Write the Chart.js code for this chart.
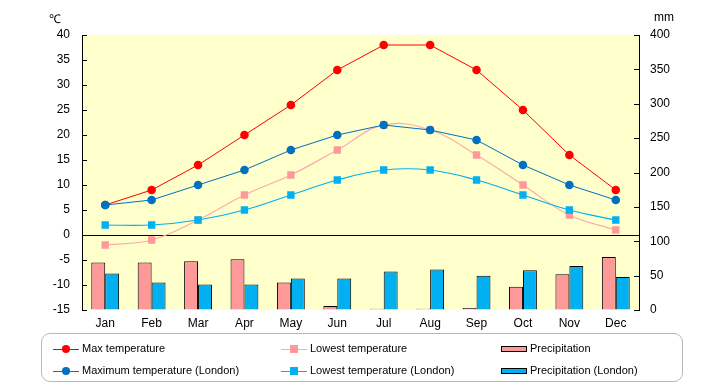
<!DOCTYPE html>
<html>
<head>
<meta charset="utf-8">
<script src="https://cdn.jsdelivr.net/npm/chart.js@4"></script>
<style>
  html, body { margin:0; padding:0; background:#fff; }
  #wrap { position:relative; width:720px; height:385px; font-family:"Liberation Sans", Arial, sans-serif; }
  canvas { position:absolute; left:0; top:0; }
  .unit { position:absolute; font-size:12px; color:#000; }
  #legend { position:absolute; left:41px; top:333px; width:642px; height:49px; border:1.5px solid #b8b8b8; border-radius:9px; box-sizing:border-box; }
  .li { position:absolute; font-size:11px; color:#000; white-space:nowrap; }
  .ln { position:absolute; height:1px; }
  .mk { position:absolute; }
</style>
</head>
<body>
<div id="wrap">
  <canvas id="c" width="720" height="385"></canvas>
  <div class="unit" style="left:49px; top:10px;">℃</div>
  <div class="unit" style="left:654px; top:10px;">mm</div>
  <div id="legend"></div>
</div>
<script>
const months = ["Jan","Feb","Mar","Apr","May","Jun","Jul","Aug","Sep","Oct","Nov","Dec"];
const maxTemp = [6, 9, 14, 20, 26, 33, 38, 38, 33, 25, 16, 9];
const lowTemp = [-2, -1, 3, 8, 12, 17, 22, 21, 16, 10, 4, 1];
const maxTempLondon = [6, 7, 10, 13, 17, 20, 22, 21, 19, 14, 10, 7];
const lowTempLondon = [2, 2, 3, 5, 8, 11, 13, 13, 11, 8, 5, 3];
const precip = [69, 69, 71, 74, 40, 6, 2, 2, 3, 34, 52, 77];
const precipLondon = [53, 40, 37, 37, 46, 46, 56, 59, 50, 58, 64, 48];
const tempTicks = [-15, -10, -5, 0, 5, 10, 15, 20, 25, 30, 35, 40];
const mmTicks = [0, 50, 100, 150, 200, 250, 300, 350, 400];

const names = {
  maxT: "Max temperature",
  lowT: "Lowest temperature",
  pr: "Precipitation",
  maxL: "Maximum temperature (London)",
  lowL: "Lowest temperature (London)",
  prL: "Precipitation (London)"
};

const C = {
  red: "#FF0000",
  pink: "#FF9999",
  pinkLine: "#FFAAAA",
  blue: "#0070C0",
  cyan: "#00B0F0"
};

const bgPlugin = {
  id: "bg",
  beforeDraw(chart) {
    const a = chart.chartArea, ctx = chart.ctx;
    ctx.save();
    ctx.fillStyle = "#FFFFCC";
    ctx.fillRect(a.left, a.top, a.right - a.left, a.bottom - a.top);
    ctx.restore();
  },
  afterDraw(chart) {
    const a = chart.chartArea, ctx = chart.ctx;
    ctx.save();
    ctx.strokeStyle = "#000";
    ctx.lineWidth = 1;
    const yl = chart.scales.yL, yr = chart.scales.yR;
    yl.ticks.forEach(t => {
      const y = Math.round(yl.getPixelForValue(t.value)) + 0.5;
      ctx.beginPath(); ctx.moveTo(a.left, y); ctx.lineTo(a.left + 5, y); ctx.stroke();
    });
    yr.ticks.forEach(t => {
      const y = Math.round(yr.getPixelForValue(t.value)) + 0.5;
      ctx.beginPath(); ctx.moveTo(a.right - 5, y); ctx.lineTo(a.right, y); ctx.stroke();
    });
    ctx.restore();
  }
};

const tickFont = { family: "Liberation Sans, Arial, sans-serif", size: 12 };

new Chart(document.getElementById("c"), {
  type: "bar",
  data: {
    labels: months,
    datasets: [
      { type: "line", label: names.maxT, data: maxTemp, yAxisID: "yL", borderColor: C.red, backgroundColor: C.red,
        borderWidth: 1, pointStyle: "circle", pointRadius: 4.3, pointBorderWidth: 0, tension: 0, order: 1 },
      { type: "line", label: names.lowT, data: lowTemp, yAxisID: "yL", borderColor: C.pinkLine, backgroundColor: C.pink,
        borderWidth: 1.2, pointStyle: "rect", pointRadius: 5.2, pointBorderWidth: 0, tension: 0.4, order: 2 },
      { type: "line", label: names.maxL, data: maxTempLondon, yAxisID: "yL", borderColor: C.blue, backgroundColor: C.blue,
        borderWidth: 1, pointStyle: "circle", pointRadius: 4.3, pointBorderWidth: 0, tension: 0, order: 0 },
      { type: "line", label: names.lowL, data: lowTempLondon, yAxisID: "yL", borderColor: C.cyan, backgroundColor: C.cyan,
        borderWidth: 1.2, pointStyle: "rect", pointRadius: 5.2, pointBorderWidth: 0, tension: 0.4, order: 0 },
      { type: "bar", label: names.pr, data: precip, yAxisID: "yR", backgroundColor: C.pink, borderColor: "#000",
        borderWidth: 1, categoryPercentage: 0.6, barPercentage: 1.0, order: 5 },
      { type: "bar", label: names.prL, data: precipLondon, yAxisID: "yR", backgroundColor: C.cyan, borderColor: "#000",
        borderWidth: 1, categoryPercentage: 0.6, barPercentage: 1.0, order: 5 }
    ]
  },
  options: {
    responsive: false,
    animation: false,
    layout: { padding: { top: 35, bottom: 55, left: 0, right: 0 } },
    plugins: { legend: { display: false }, tooltip: { enabled: false } },
    scales: {
      x: {
        grid: { display: false, drawTicks: false },
        border: { display: false },
        ticks: { color: "#000", font: tickFont, padding: 6, maxRotation: 0 },
        afterFit(s) { s.height = 20; }
      },
      yL: {
        position: "left",
        min: -15, max: 40,
        afterBuildTicks(s) { s.ticks = tempTicks.map(v => ({ value: v })); },
        grid: {
          drawTicks: false,
          color: c => (c.tick && c.tick.value === 0) ? "#000" : "rgba(0,0,0,0)",
          lineWidth: 1
        },
        border: { display: true, color: "#000", width: 1 },
        ticks: { color: "#000", font: tickFont, padding: 12 },
        afterFit(s) { s.width = 82; }
      },
      yR: {
        position: "right",
        min: 0, max: 400,
        afterBuildTicks(s) { s.ticks = mmTicks.map(v => ({ value: v })); },
        grid: { drawOnChartArea: false, drawTicks: false },
        border: { display: true, color: "#000", width: 1 },
        ticks: { color: "#000", font: tickFont, padding: 11 },
        afterFit(s) { s.width = 81; }
      }
    }
  },
  plugins: [bgPlugin]
});

// HTML legend
const legend = document.getElementById("legend");
const items = [
  { name: names.maxT, kind: "line", color: C.red, mcolor: C.red, marker: "circle", col: 0, row: 0 },
  { name: names.lowT, kind: "line", color: C.pinkLine, mcolor: C.pink, marker: "rect", col: 1, row: 0 },
  { name: names.pr, kind: "bar", color: C.pink, col: 2, row: 0 },
  { name: names.maxL, kind: "line", color: C.blue, mcolor: C.blue, marker: "circle", col: 0, row: 1 },
  { name: names.lowL, kind: "line", color: C.cyan, mcolor: C.cyan, marker: "rect", col: 1, row: 1 },
  { name: names.prL, kind: "bar", color: C.cyan, col: 2, row: 1 }
];
const colX = [11, 239, 459];
const rowY = [16, 38];
items.forEach(it => {
  const x = colX[it.col], y = rowY[it.row];
  if (it.kind === "line") {
    const ln = document.createElement("div");
    ln.className = "ln";
    ln.style.cssText = `left:${x}px; top:${y - 1}px; width:26px; background:${it.color};`;
    legend.appendChild(ln);
    const mk = document.createElement("div");
    mk.className = "mk";
    const r = it.marker === "circle" ? "50%" : "0";
    mk.style.cssText = `left:${x + 9}px; top:${y - 5}px; width:8px; height:8px; border-radius:${r}; background:${it.mcolor};`;
    legend.appendChild(mk);
  } else {
    const b = document.createElement("div");
    b.className = "mk";
    b.style.cssText = `left:${x}px; top:${y - 4}px; width:26px; height:6px; background:${it.color}; border:1px solid #000; box-sizing:border-box;`;
    legend.appendChild(b);
  }
  const t = document.createElement("div");
  t.className = "li";
  t.textContent = it.name;
  t.style.left = (x + 29) + "px";
  t.style.top = (y - 8) + "px";
  legend.appendChild(t);
});
</script>
</body>
</html>
